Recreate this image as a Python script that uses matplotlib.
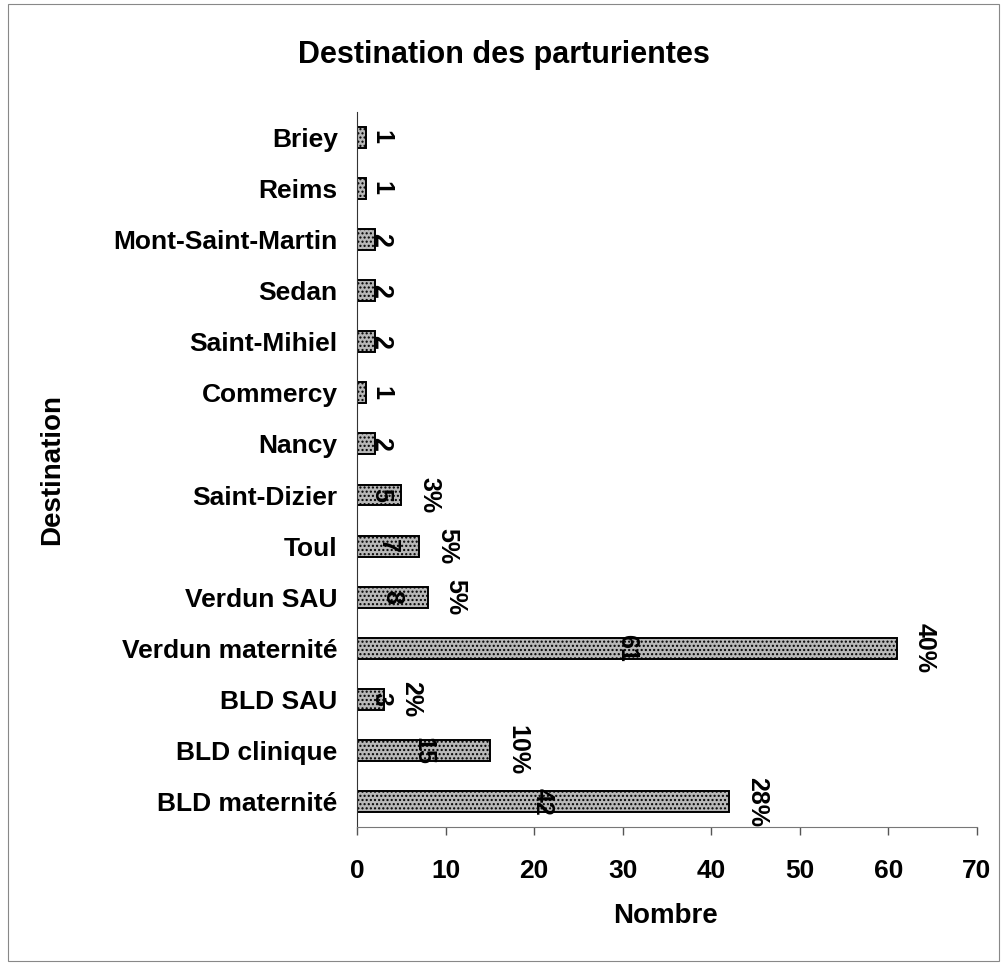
import matplotlib.pyplot as plt
from matplotlib.patches import Rectangle

plt.rcParams['font.family'] = ['Liberation Sans', 'DejaVu Sans']
plt.rcParams['font.weight'] = 'bold'

destinations = ['BLD maternité', 'BLD clinique', 'BLD SAU', 'Verdun maternité',
                'Verdun SAU', 'Toul', 'Saint-Dizier', 'Nancy', 'Commercy',
                'Saint-Mihiel', 'Sedan', 'Mont-Saint-Martin', 'Reims', 'Briey']
counts = [42, 15, 3, 61, 8, 7, 5, 2, 1, 2, 2, 2, 1, 1]
percents = ['28%', '10%', '2%', '40%', '5%', '5%', '3%',
            None, None, None, None, None, None, None]

fig = plt.figure(figsize=(10.06, 9.64), dpi=100)
ax = fig.add_axes([0.355, 0.142, 0.616, 0.742])

pos = range(len(destinations))
ax.barh(pos, counts, height=0.41, color='#b8b8b8', edgecolor='black',
        linewidth=1.4, hatch='....', zorder=2)

for i, (v, p) in enumerate(zip(counts, percents)):
    ax.text(max(v / 2, 2.7), i, str(v), rotation=270, ha='center', va='center',
            fontsize=18, fontweight='bold', zorder=3)
    if p:
        ax.annotate(p, (v, i), xytext=(20, 0), textcoords='offset points',
                    rotation=270, ha='center', va='center',
                    fontsize=18, fontweight='bold')

ax.set_xlim(0, 70)
ax.set_ylim(-0.5, len(destinations) - 0.5)
ax.set_xticks(range(0, 71, 10))
ax.set_yticks(list(pos))
ax.set_yticklabels(destinations)
ax.tick_params(axis='y', length=0, pad=14, labelsize=19)
ax.tick_params(axis='x', length=6, width=1, pad=17, labelsize=19, color='#555555')
for lab in ax.get_xticklabels() + ax.get_yticklabels():
    lab.set_fontweight('bold')

for s in ['top', 'right']:
    ax.spines[s].set_visible(False)
ax.spines['left'].set_color('#333333')
ax.spines['bottom'].set_color('#777777')

ax.set_xlabel('Nombre', fontsize=20, fontweight='bold')
ax.set_ylabel('Destination', fontsize=20, fontweight='bold')
ax.xaxis.set_label_coords(0.662, 1 - 903 / 964, transform=fig.transFigure)
ax.yaxis.set_label_coords(0.065, 0.513, transform=fig.transFigure)
fig.text(0.501, 0.943, 'Destination des parturientes', ha='center', va='center',
         fontsize=22, fontweight='bold')

fig.patches.append(Rectangle((0.008, 0.003), 0.985, 0.993, transform=fig.transFigure,
                             fill=False, edgecolor='#888888', linewidth=0.8))

fig.savefig('out.png', dpi=100)
